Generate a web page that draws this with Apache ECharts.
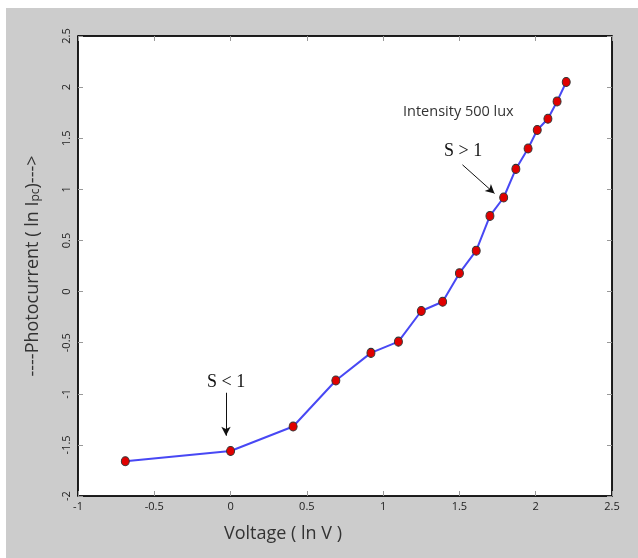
<!DOCTYPE html>
<html>
<head>
<meta charset="utf-8">
<script src="https://cdn.jsdelivr.net/npm/echarts@6/dist/echarts.min.js"></script>
<style>
  html, body { margin: 0; padding: 0; background: #ffffff; }
  #main { position: absolute; left: 6px; top: 8px; width: 632px; height: 550px; }
</style>
</head>
<body>
<div id="main"></div>
<script>
// ln of voltage, ln of photocurrent
const lnVoltage = [-0.69, 0.0, 0.41, 0.69, 0.92, 1.10, 1.25, 1.39, 1.50, 1.61, 1.70, 1.79, 1.87, 1.95, 2.01, 2.08, 2.14, 2.20];
const lnCurrent = [-1.66, -1.56, -1.32, -0.87, -0.60, -0.49, -0.19, -0.10, 0.18, 0.40, 0.74, 0.92, 1.20, 1.40, 1.58, 1.69, 1.86, 2.05];

const points = lnVoltage.map((v, i) => [v, lnCurrent[i]]);

const chart = echarts.init(document.getElementById("main"));

const tickStyle = { show: true, inside: true, length: 5, lineStyle: { color: "#999" } };
const boxLine = { show: true, onZero: false, lineStyle: { color: "#000", width: 1.5 } };

const option = {
  backgroundColor: "#cccccc",
  animation: false,
  grid: {
    left: 72,
    right: 26,
    top: 28,
    bottom: 62,
    show: true,
    backgroundColor: "#ffffff",
    borderColor: "#000",
    borderWidth: 1,
  },
  xAxis: [
    {
      type: "value",
      min: -1,
      max: 2.5,
      interval: 0.5,
      splitLine: { show: false },
      axisLine: boxLine,
      axisTick: tickStyle,
      axisLabel: { color: "#222", fontSize: 11, margin: 5, fontFamily: "Open Sans" },
    },
    {
      type: "value",
      position: "top",
      min: -1,
      max: 2.5,
      interval: 0.5,
      splitLine: { show: false },
      axisLine: boxLine,
      axisTick: tickStyle,
      axisLabel: { show: false },
    },
  ],
  yAxis: [
    {
      type: "value",
      min: -2,
      max: 2.5,
      interval: 0.5,
      splitLine: { show: false },
      axisLine: boxLine,
      axisTick: tickStyle,
      axisLabel: { color: "#222", fontSize: 11, rotate: 90, margin: 6, fontFamily: "Open Sans" },
      name: "{a|----Photocurrent ( ln I}{s|pc}{a|)--->}",
      nameLocation: "middle",
      nameRotate: 90,
      nameGap: 36,
      nameTextStyle: {
        rich: {
          a: { fontSize: 18, color: "#333", fontFamily: "Open Sans" },
          s: { fontSize: 12, color: "#333", fontFamily: "Open Sans", padding: [7, 0, 0, 0] },
        },
      },
    },
    {
      type: "value",
      position: "right",
      min: -2,
      max: 2.5,
      interval: 0.5,
      splitLine: { show: false },
      axisLine: boxLine,
      axisTick: tickStyle,
      axisLabel: { show: false },
    },
  ],
  graphic: [
    {
      type: "text",
      left: 218,
      top: 517,
      style: { text: "Voltage ( ln V )", fontSize: 18, fill: "#333", fontFamily: "Open Sans" },
    },
    {
      type: "text",
      left: 397,
      top: 96,
      style: { text: "Intensity 500 lux", fontSize: 14.5, fill: "#333", fontFamily: "Open Sans" },
    },
    {
      type: "text",
      left: 438,
      top: 134,
      style: { text: "S > 1", fontSize: 18, fill: "#111", fontFamily: "Liberation Serif" },
    },
    {
      type: "text",
      left: 201,
      top: 365,
      style: { text: "S < 1", fontSize: 18, fill: "#111", fontFamily: "Liberation Serif" },
    },
  ],
  series: [
    {
      type: "line",
      data: points,
      symbol: "circle",
      symbolSize: [8, 9],
      lineStyle: { color: "#4848f4", width: 2 },
      itemStyle: { color: "#e00000", borderColor: "#333", borderWidth: 1 },
      markLine: {
        silent: true,
        symbol: ["none", "arrow"],
        symbolSize: [7, 9],
        label: { show: false },
        lineStyle: { color: "#111", width: 1, type: "solid" },
        data: [
          [{ coord: [-0.03, -0.99] }, { coord: [-0.03, -1.41] }],
          [{ coord: [1.52, 1.24] }, { coord: [1.73, 0.96] }],
        ],
      },
    },
  ],
};

chart.setOption(option);
</script>
</body>
</html>
